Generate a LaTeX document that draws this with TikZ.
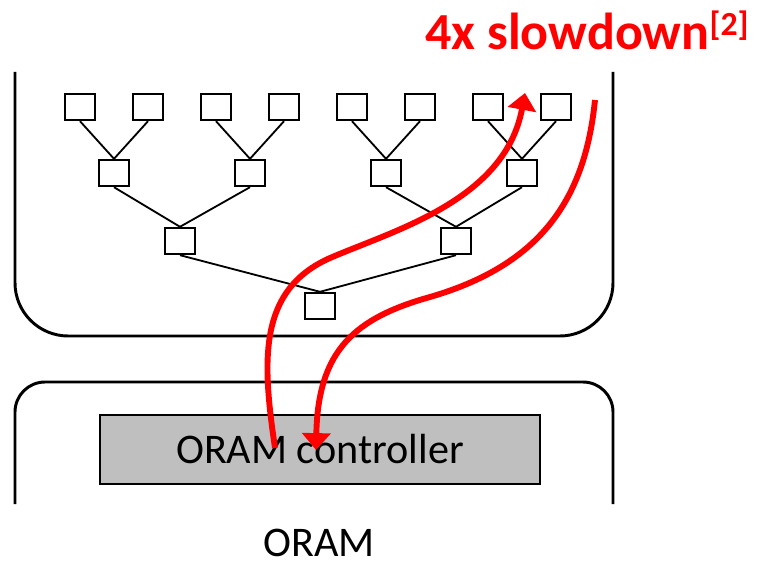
\documentclass[tikz,border=0pt]{standalone}
\usepackage{fontspec}
\setmainfont{Carlito}
\usetikzlibrary{arrows.meta,positioning}
\tikzset{
  shell/.style={line width=2.1pt, rounded corners=#1},
  bucket/.style={draw, line width=1.4pt, minimum width=0.76cm, minimum height=0.66cm, inner sep=0pt},
  treeln/.style={line width=1.3pt},
  pathln/.style={-{Triangle[length=12pt,width=20pt]}, line width=4.2pt, slowred},
}
\definecolor{slowred}{RGB}{255,0,0}
\definecolor{ctrlgray}{RGB}{191,191,191}

\begin{document}
\begin{tikzpicture}[x=0.025cm, y=-0.025cm]
    \useasboundingbox (0,0) rectangle (757,565);
    \draw[shell=1.33cm] (15,72) -- (15,336) -- (613,336) -- (613,72);
    \draw[shell=0.75cm] (15,504) -- (15,382) -- (613,382) -- (613,504);
    \foreach \x [count=\i] in {80,148,...,556} {
      \node[bucket] (l\i) at (\x,107) {};
    }
    \foreach \x [count=\i] in {114,250,386,522} {
      \node[bucket] (m\i) at (\x,173) {};
    }
    \node[bucket] (n1) at (180,241) {};
    \node[bucket] (n2) at (456,241) {};
    \node[bucket] (root) at (320,306) {};
    \foreach \c/\p in {l1/m1, l2/m1, l3/m2, l4/m2, l5/m3, l6/m3, l7/m4, l8/m4,
      m1/n1, m2/n1, m3/n2, m4/n2, n1/root, n2/root} {
      \draw[treeln] (\c.south) -- (\p.north);
    }
    \node[draw, fill=ctrlgray, line width=1.4pt, minimum width=11cm,
      minimum height=1.72cm, font=\fontsize{30}{36}\selectfont] (ctrl)
      at (320,449.5) {ORAM controller};
    \node[font=\fontsize{30}{36}\selectfont, anchor=base, inner sep=0pt]
      (oramlbl) at (319,556) {ORAM};
    \node[slowred, font=\bfseries\fontsize{37}{44}\selectfont, anchor=base west,
      inner sep=0pt] (slowlbl) at (425,50)
      {4x slowdown\raisebox{10pt}{\fontsize{24}{28}\selectfont [2]}};
    % read path and write-back path
    \coordinate (rd1) at (275,448);
    \coordinate (ru1) at (525,93);
    \coordinate (ru2) at (595,100);
    \coordinate (rd2) at (316,450);
    \draw[pathln] (rd1) .. controls (262,360) and (258,290) .. (330,258)
      .. controls (395,230) and (505,200) .. (ru1);
    \draw[pathln] (ru2) .. controls (585,200) and (540,265) .. (430,297)
      .. controls (355,318) and (318,350) .. (rd2);
  \end{tikzpicture}
\end{document}
